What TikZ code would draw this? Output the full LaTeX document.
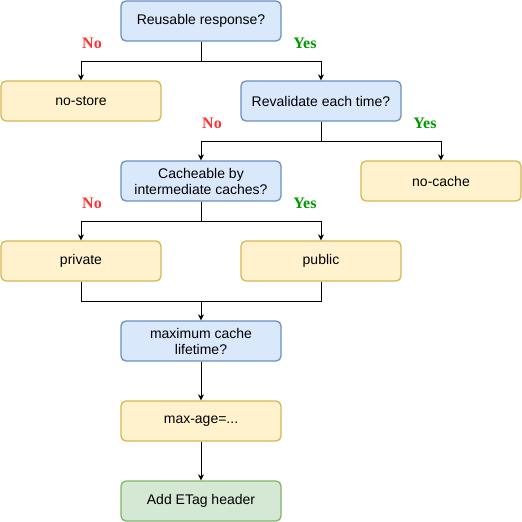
\documentclass[tikz,border=0pt]{standalone}
\usepackage{fontspec}
\setmainfont{Liberation Sans}
\newfontfamily\labelfont{Liberation Serif}
\usetikzlibrary{arrows.meta}
\definecolor{bfill}{HTML}{DAE8FC}
\definecolor{bline}{HTML}{6C8EBF}
\definecolor{yfill}{HTML}{FFF2CC}
\definecolor{yline}{HTML}{D6B656}
\definecolor{gfill}{HTML}{D5E8D4}
\definecolor{gline}{HTML}{82B366}
\definecolor{nored}{HTML}{FF3333}
\definecolor{yesgreen}{HTML}{009900}
\tikzset{
  box/.style={rounded corners=5pt, minimum width=160pt, minimum height=40pt, line width=1.3pt, align=center, font=\fontsize{14}{16}\selectfont, inner sep=0pt},
  qbox/.style={box, fill=bfill, draw=bline},
  abox/.style={box, fill=yfill, draw=yline},
  gbox/.style={box, fill=gfill, draw=gline},
  conn/.style={line width=0.9pt, -{Stealth[length=6pt,width=6pt]}},
  plain/.style={line width=0.9pt},
  nolab/.style={text=nored, font=\labelfont\bfseries\fontsize{16}{18}\selectfont},
  yeslab/.style={text=yesgreen, font=\labelfont\bfseries\fontsize{16}{18}\selectfont},
}
\begin{document}
\begin{tikzpicture}[x=1pt,y=-1pt]
\useasboundingbox (0,0) rectangle (522,522);
\node[qbox] (reuse) at (201,21) {Reusable response?};
\node[abox] (nostore) at (81,101) {no-store};
\node[qbox] (reval) at (321,101) {Revalidate each time?};
\node[qbox] (cache) at (201,181) {Cacheable by\\intermediate caches?};
\node[abox] (nocache) at (441,181) {no-cache};
\node[abox] (private) at (81,261) {private};
\node[abox] (public) at (321,261) {public};
\node[qbox] (maxlife) at (201,341) {maximum cache\\lifetime?};
\node[abox] (maxage) at (201,421) {max-age=...};
\node[gbox] (etag) at (201,501) {Add ETag header};

\coordinate (j1) at (201,61);
\coordinate (j2) at (321,141);
\coordinate (j3) at (201,221);
\coordinate (j4) at (201,301);

\draw[plain] (reuse.south) -- (j1);
\draw[conn] (j1) -| (nostore.north);
\draw[conn] (j1) -| (reval.north);
\draw[plain] (reval.south) -- (j2);
\draw[conn] (j2) -| (cache.north);
\draw[conn] (j2) -| (nocache.north);
\draw[plain] (cache.south) -- (j3);
\draw[conn] (j3) -| (private.north);
\draw[conn] (j3) -| (public.north);
\draw[plain] (private.south) |- (j4);
\draw[plain] (public.south) |- (j4);
\draw[conn] (j4) -- (maxlife.north);
\draw[conn] (maxlife.south) -- (maxage.north);
\draw[conn] (maxage.south) -- (etag.north);

\node[nolab] (n1) at (92,43) {No};
\node[yeslab] (y1) at (305,43) {Yes};
\node[nolab] (n2) at (212,123) {No};
\node[yeslab] (y2) at (425,123) {Yes};
\node[nolab] (n3) at (92,203) {No};
\node[yeslab] (y3) at (305,203) {Yes};
\end{tikzpicture}
\end{document}
